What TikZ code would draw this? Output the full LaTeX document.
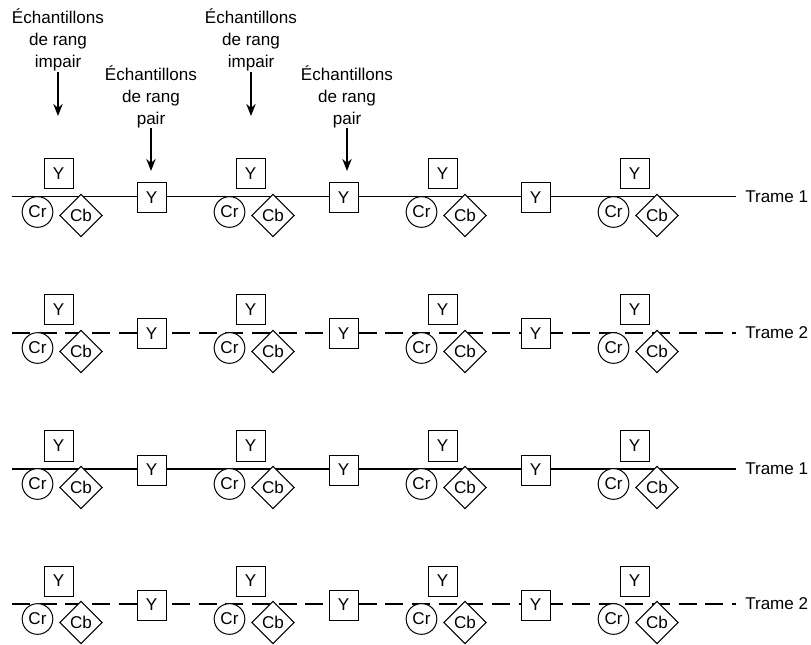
\documentclass[tikz,border=0pt]{standalone}
\usepackage{fontspec}
\setmainfont{Liberation Sans}
\usetikzlibrary{shapes.geometric,arrows.meta}
\begin{document}
\begin{tikzpicture}[x=0.75pt,y=-0.75pt,
  every node/.style={font=\fontsize{12.8}{16.5}\selectfont},
  lumabox/.style={draw,fill=white,line width=0.75pt,inner sep=0pt,minimum width=21.75pt,minimum height=22.5pt},
  crnode/.style={draw,fill=white,circle,line width=0.75pt,inner sep=0pt,minimum size=23pt},
  cbnode/.style={draw,fill=white,diamond,line width=0.75pt,inner sep=0pt,minimum width=32pt,minimum height=32pt},
  caption/.style={align=center,inner sep=0pt},
  pointer/.style={line width=1.5pt,-{Stealth[length=9pt,width=7pt]}},
  fieldsolid/.style={line width=0.75pt},
  fieldthick/.style={line width=1.5pt},
  fielddash/.style={line width=1.5pt,dash pattern=on 13.4pt off 6.6pt}
]
\useasboundingbox (0,0) rectangle (811,645);

% captions with their arrows
\node[caption] (odd1) at (58,40) {Échantillons\\de rang\\impair};
\node[caption] (even1) at (151,97) {Échantillons\\de rang\\pair};
\node[caption] (odd2) at (251,40) {Échantillons\\de rang\\impair};
\node[caption] (even2) at (347,97) {Échantillons\\de rang\\pair};
\coordinate (odd1a) at (58,72);  \coordinate (odd1b) at (58,116);
\coordinate (even1a) at (151,128); \coordinate (even1b) at (151,171);
\coordinate (odd2a) at (251,72);  \coordinate (odd2b) at (251,116);
\coordinate (even2a) at (347,128); \coordinate (even2b) at (347,171);
\draw[pointer] (odd1a) -- (odd1b);
\draw[pointer] (even1a) -- (even1b);
\draw[pointer] (odd2a) -- (odd2b);
\draw[pointer] (even2a) -- (even2b);

% one field line with its samples
\foreach \r/\L/\kind/\name in {1/197/fieldsolid/Trame 1, 2/333/fielddash/Trame 2, 3/469/fieldthick/Trame 1, 4/604/fielddash/Trame 2}{
  \coordinate (s\r) at (12,\L);
  \coordinate (e\r) at (736,\L);
  \draw[\kind] (s\r) -- (e\r);
  \node[anchor=west,inner sep=0pt] (t\r) at (745,\L) {\name};
  \foreach \k in {0,1,2,3}{
    \pgfmathsetmacro{\xc}{58.5+192*\k}
    \node[lumabox] (yu\r\k) at (\xc,\L-23) {Y};
    \node[crnode] (cr\r\k) at (\xc-21,\L+15) {Cr};
    \node[cbnode] (cb\r\k) at (\xc+22.5,\L+18.5) {Cb};
  }
  \foreach \k in {0,1,2}{
    \pgfmathsetmacro{\xm}{151.5+192*\k}
    \node[lumabox] (ym\r\k) at (\xm,\L+1) {Y};
  }
}
\end{tikzpicture}
\end{document}
